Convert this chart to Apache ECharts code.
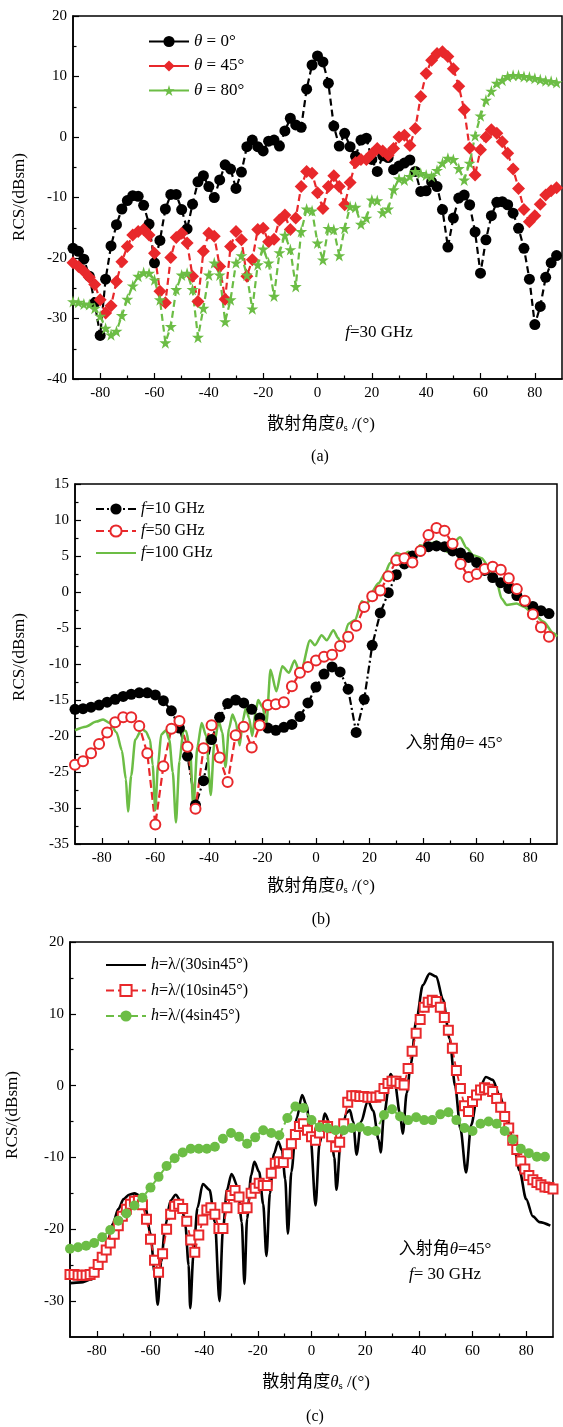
<!doctype html>
<html>
<head>
<meta charset="utf-8">
<title>RCS</title>
<script src="https://cdn.jsdelivr.net/npm/echarts@6/dist/echarts.min.js"></script>
<style>
html, body { margin: 0; padding: 0; background: #fff; }
#main { width: 563px; height: 1427px; }
</style>
</head>
<body>
<div id="main"></div>
<script>
// ---- (a) f = 30 GHz, incidence 0/45/80 deg ----
var aAngle = [-90,-88,-86,-84,-82,-80,-78,-76,-74,-72,-70,-68,-66,-64,-62,-60,-58,-56,-54,-52,-50,-48,-46,-44,-42,-40,-38,-36,-34,-32,-30,-28,-26,-24,-22,-20,-18,-16,-14,-12,-10,-8,-6,-4,-2,0,2,4,6,8,10,12,14,16,18,20,22,24,26,28,30,32,34,36,38,40,42,44,46,48,50,52,54,56,58,60,62,64,66,68,70,72,74,76,78,80,82,84,86,88];
var aTheta0 = [-18.4,-18.9,-20.2,-23.0,-27.4,-32.8,-23.5,-18.0,-14.5,-11.9,-10.5,-9.7,-9.8,-11.3,-14.4,-20.8,-17.1,-11.9,-9.5,-9.5,-12.0,-15.2,-11.1,-7.4,-6.4,-8.2,-10.0,-7.1,-4.6,-5.3,-8.5,-5.8,-1.6,-0.5,-1.6,-2.3,-0.7,-0.5,-1.5,1.0,3.1,2.0,1.6,7.9,11.9,13.4,12.4,8.9,1.8,-1.5,0.6,-1.6,-3.2,-0.5,-0.2,-3.7,-5.7,-3.1,-3.4,-5.4,-4.8,-4.3,-3.8,-5.7,-9.0,-8.9,-7.4,-8.2,-12.0,-18.2,-13.4,-10.1,-9.6,-11.2,-15.7,-22.5,-17.0,-13.0,-10.8,-10.7,-11.2,-12.6,-15.1,-18.4,-23.5,-31.0,-28.0,-23.2,-20.8,-19.6];
var aTheta45 = [-20.8,-21.4,-22.2,-23.2,-24.4,-26.9,-29.1,-27.9,-23.9,-20.6,-18.1,-16.2,-15.6,-15.3,-16.2,-19.2,-25.5,-27.4,-19.9,-16.6,-15.9,-17.5,-23.0,-27.2,-18.9,-15.9,-16.4,-21.4,-26.8,-18.1,-15.6,-17.0,-23.0,-20.3,-15.3,-15.1,-17.3,-16.9,-13.7,-12.9,-15.3,-13.4,-8.2,-5.7,-6.0,-9.2,-11.8,-8.2,-6.4,-8.2,-11.2,-7.5,-4.2,-3.7,-3.7,-2.8,-1.9,-2.3,-3.0,-1.9,0.0,0.3,-1.4,1.4,6.7,10.5,12.7,13.8,14.1,13.3,11.3,8.4,4.5,-1.8,-6.3,-2.1,0.0,1.2,0.6,-0.8,-2.7,-5.3,-8.5,-12.0,-14.0,-13.0,-11.1,-9.6,-8.9,-8.4];
var aTheta80 = [-27.2,-27.3,-27.6,-27.7,-28.3,-29.6,-31.6,-32.7,-32.1,-29.5,-26.8,-24.6,-23.0,-22.4,-22.5,-23.6,-26.9,-34.0,-31.3,-25.2,-22.8,-22.5,-25.2,-33.1,-28.3,-22.8,-20.8,-22.8,-30.5,-26.9,-20.8,-19.6,-22.8,-28.4,-21.1,-18.5,-20.8,-26.3,-19.1,-16.2,-18.6,-24.7,-15.6,-11.9,-12.2,-17.5,-20.3,-15.1,-15.3,-19.6,-15.1,-11.5,-11.6,-14.4,-13.4,-10.4,-10.5,-12.5,-11.9,-8.7,-6.9,-7.1,-6.5,-5.7,-6.0,-6.3,-6.5,-5.5,-4.3,-3.5,-3.7,-5.2,-7.1,-4.3,0.2,3.5,6.1,7.6,8.9,9.4,10.0,10.2,10.2,10.0,9.9,9.7,9.5,9.3,9.2,9.0];

// ---- (b) incidence 45 deg, f = 10/50/100 GHz ----
var bAngle = [-90,-87,-84,-81,-78,-75,-72,-69,-66,-63,-60,-57,-54,-51,-48,-45,-42,-39,-36,-33,-30,-27,-24,-21,-18,-15,-12,-9,-6,-3,0,3,6,9,12,15,18,21,24,27,30,33,36,39,42,45,48,51,54,57,60,63,66,69,72,75,78,81,84,87];
var bF10 = [-16.3,-16.2,-16.0,-15.7,-15.3,-14.9,-14.5,-14.2,-14.0,-14.0,-14.3,-15.1,-16.5,-18.9,-22.8,-29.6,-26.2,-20.5,-17.4,-15.5,-15.0,-15.4,-16.3,-17.5,-18.9,-19.2,-18.8,-18.4,-17.3,-15.4,-13.2,-11.4,-10.4,-11.1,-13.5,-19.5,-14.9,-7.4,-2.9,-0.1,2.4,3.9,5.0,5.7,6.3,6.4,6.3,5.7,5.4,4.8,4.1,3.0,2.0,1.3,0.5,-0.5,-1.3,-2.0,-2.6,-3.0];
var bF50 = [-24.0,-23.5,-22.4,-21.1,-19.5,-18.1,-17.4,-17.4,-18.6,-22.4,-32.3,-24.2,-19.0,-17.9,-21.5,-30.1,-21.7,-18.5,-23.0,-26.4,-19.9,-18.7,-21.6,-18.5,-15.7,-15.6,-15.3,-13.1,-11.2,-10.4,-9.5,-9.0,-8.7,-7.5,-6.2,-4.7,-2.1,-0.6,0.2,2.2,4.4,4.7,4.1,5.7,7.9,8.9,8.5,6.7,3.9,2.1,2.5,3.2,3.5,3.1,1.9,0.4,-1.2,-3.1,-4.9,-6.2];
var b100Angle = [-90,-86,-82,-79.5,-77,-74.5,-72.5,-71,-70.2,-69,-67.5,-65,-63.5,-62,-61,-60,-59,-57.8,-56,-54.8,-53.5,-52.3,-51,-49.5,-48.5,-47,-45.8,-44.3,-42.7,-41,-39.3,-38,-36.3,-35,-33.8,-32.5,-31.2,-30,-28.5,-27.3,-26.2,-25,-23.8,-22.5,-21.6,-20,-18.5,-17,-14.8,-12.6,-10.1,-8,-5.9,-2.2,-0.4,2.1,4,6.5,8.3,9.6,12.1,14.6,17.1,19,20.8,23.3,25.8,27.6,30.1,32.6,34.5,37,38.8,41.3,43.2,45.1,47,48.8,51.3,53.8,56.3,58.7,61.9,64.4,67.5,69.3,71.2,74.9,77.4,81.2,84.9,88.6,90];
var bF100 = [-19.2,-18.7,-18.0,-17.7,-18.2,-19.5,-22.0,-26.0,-30.5,-25.5,-20.5,-19.0,-19.4,-20.5,-24.0,-30.3,-24.0,-19.8,-19.2,-20.5,-25.0,-32.0,-23.5,-19.2,-19.3,-22.0,-30.0,-21.5,-18.2,-20.0,-28.2,-21.0,-18.0,-19.5,-24.3,-19.0,-17.0,-18.0,-21.3,-17.8,-16.1,-17.5,-20.0,-16.5,-15.0,-16.0,-18.2,-10.8,-13.8,-10.3,-11.2,-9.5,-11.4,-6.7,-7.4,-6.0,-6.7,-5.3,-6.4,-7.6,-4.4,-3.9,-1.3,-1.8,0.0,1.2,2.6,4.0,5.4,5.1,5.6,5.1,6.5,6.3,6.8,7.0,6.1,5.6,6.8,7.6,6.1,5.1,4.7,3.5,1.4,-0.9,-1.8,-1.6,-2.0,-3.0,-4.1,-5.7,-6.2];

// ---- (c) incidence 45 deg, f = 30 GHz, three heights ----
var c30Angle = [-90,-86,-82,-80,-78,-76,-74,-72,-70,-68,-66,-64,-62,-60,-58.5,-57.3,-56,-54.5,-52.5,-50.6,-48.5,-47,-45.8,-45.2,-44,-42.5,-40.5,-38,-36,-34.3,-33,-31.5,-29.8,-27.5,-26,-25,-24,-22.5,-21.3,-19.5,-18,-16.8,-15.5,-14,-12.4,-11,-9.8,-8.8,-7.5,-5.5,-3.5,-1.8,-0.3,1.5,3,5,7,8.5,9.3,11,13,14.3,15.5,16.8,18.5,21,23,25,25.8,27,29.5,31,33,34,35.5,37,39,41.5,44,46.5,49,51.5,53.5,55.5,57.6,59.5,62,65,67.5,70,72.5,75,77.5,80,82.5,85,89];
var c30Rcs = [-27.5,-27.4,-27.0,-26.0,-24.5,-21.8,-19.2,-17.2,-15.8,-15.2,-15.0,-15.3,-16.8,-20.6,-26.0,-30.5,-24.5,-19.5,-16.0,-15.2,-16.2,-19.5,-25.0,-31.0,-23.5,-17.0,-13.7,-14.5,-19.0,-30.0,-20.0,-14.5,-12.3,-14.0,-19.0,-27.6,-18.5,-12.5,-10.6,-12.0,-16.5,-23.7,-15.0,-9.5,-7.8,-9.0,-13.0,-20.6,-12.0,-4.5,-1.3,-2.8,-7.5,-16.7,-8.0,-3.9,-5.5,-10.0,-14.5,-7.0,-3.8,-3.4,-5.0,-9.6,-5.0,-2.1,-3.5,-7.5,-9.3,-4.0,1.6,0.5,-4.0,-6.7,-1.0,3.0,9.0,14.0,15.6,15.2,12.0,6.5,0.0,-6.0,-12.1,-5.5,-1.0,1.2,0.8,-1.2,-4.0,-7.5,-11.8,-15.8,-18.2,-19.0,-19.5];
var c10Angle = [-90,-88.5,-87,-85.5,-84,-82.5,-81,-79.5,-78,-76.5,-75,-73.5,-72,-70.5,-69,-67.5,-66,-64.5,-63,-61.5,-60,-58.5,-57,-55.5,-54,-52.5,-51,-49.5,-48,-46.5,-45,-43.5,-42,-40.5,-39,-37.5,-36,-34.5,-33,-31.5,-30,-28.5,-27,-25.5,-24,-22.5,-21,-19.5,-18,-16.5,-15,-13.5,-12,-10.5,-9,-7.5,-6,-4.5,-3,-1.5,0,1.5,3,4.5,6,7.5,9,10.5,12,13.5,15,16.5,18,19.5,21,22.5,24,25.5,27,28.5,30,31.5,33,34.5,36,37.5,39,40.5,42,43.5,45,46.5,48,49.5,51,52.5,54,55.5,57,58.5,60,61.5,63,64.5,66,67.5,69,70.5,72,73.5,75,76.5,78,79.5,81,82.5,84,85.5,87,88.5,90];
var c10Rcs = [-26.3,-26.3,-26.4,-26.4,-26.4,-26.3,-26.0,-24.9,-23.9,-22.9,-21.9,-20.7,-19.5,-18.2,-17.2,-16.5,-16.1,-16.0,-16.6,-18.6,-21.4,-24.3,-26.0,-23.4,-20.0,-17.9,-16.8,-16.5,-17.1,-18.9,-21.5,-23.2,-20.8,-18.7,-17.3,-17.0,-17.9,-19.9,-19.9,-17.0,-15.3,-14.6,-15.5,-17.1,-17.0,-15.0,-14.3,-13.6,-13.9,-13.9,-12.2,-10.8,-10.6,-10.7,-9.5,-8.1,-6.8,-5.7,-5.3,-6.2,-7.1,-7.6,-6.6,-5.6,-5.7,-7.1,-8.5,-7.9,-5.3,-2.3,-1.4,-1.4,-1.5,-1.5,-1.6,-1.6,-1.6,-1.4,-0.4,0.3,0.6,0.6,0.3,0.1,2.4,4.8,7.3,9.2,10.9,11.6,11.9,11.7,10.9,9.5,7.7,5.2,2.1,-0.4,-2.8,-3.6,-2.2,-1.3,-0.6,-0.3,-0.5,-0.8,-1.8,-3.0,-4.3,-5.9,-7.6,-8.9,-10.5,-11.6,-12.5,-13.1,-13.5,-13.8,-14.1,-14.2,-14.4];
var c4Angle = [-90,-87,-84,-81,-78,-75,-72,-69,-66,-63,-60,-57,-54,-51,-48,-45,-42,-39,-36,-33,-30,-27,-24,-21,-18,-15,-12,-9,-6,-3,0,3,6,9,12,15,18,21,24,27,30,33,36,39,42,45,48,51,54,57,60,63,66,69,72,75,78,81,84,87];
var c4Rcs = [-22.7,-22.5,-22.3,-21.9,-21.1,-20.1,-18.8,-17.8,-16.7,-15.6,-14.2,-12.7,-11.2,-10.1,-9.3,-8.8,-8.8,-8.8,-8.5,-7.4,-6.6,-7.1,-8.1,-7.2,-6.2,-6.6,-6.9,-4.5,-2.9,-3.1,-4.8,-5.8,-5.9,-6.2,-6.2,-5.9,-5.8,-6.3,-6.3,-4.1,-3.3,-4.3,-4.8,-4.4,-4.8,-4.8,-4.0,-3.7,-4.8,-5.9,-6.3,-5.3,-5.0,-5.3,-6.3,-7.5,-8.8,-9.4,-9.9,-9.9];

// tick labels
var xMajor = [-80, -60, -40, -20, 0, 20, 40, 60, 80];
var xMinor = [-70, -50, -30, -10, 10, 30, 50, 70];
var cYMajor = [-30, -20, -10, 0, 10, 20];
var cYMinor = [-25, -15, -5, 5, 15];

var serif = '"Liberation Serif", "Times New Roman", "Noto Sans CJK SC", serif';
var RED = '#e8282b', GREEN = '#6cbd45', BLACK = '#000';
var STAR = 'path://M50,0 L61,35 L98,35 L68,57 L79,91 L50,70 L21,91 L32,57 L2,35 L39,35 Z';

function zip(xs, ys) {
  var out = [];
  for (var i = 0; i < xs.length; i++) out.push([xs[i], ys[i]]);
  return out;
}

var tickLine = { color: '#000', width: 1.2 };
var axisLine = { show: true, onZero: false, lineStyle: { color: '#000', width: 1.5 } };
var labelStyle = { fontFamily: serif, fontSize: 15, color: '#000' };

function xMainAxis(g) {
  return {
    type: 'value', gridIndex: g, min: -90, max: 90, position: 'bottom',
    axisLine: axisLine,
    axisTick: { inside: true, length: 6, customValues: xMajor, lineStyle: tickLine },
    axisLabel: Object.assign({ customValues: xMajor, margin: 7 }, labelStyle),
    splitLine: { show: false }
  };
}
function xMinorAxis(g) {
  return {
    type: 'value', gridIndex: g, min: -90, max: 90, position: 'bottom',
    axisLine: { show: false, onZero: false },
    axisTick: { inside: true, length: 3.5, customValues: xMinor, lineStyle: tickLine },
    axisLabel: { show: false },
    splitLine: { show: false }
  };
}

var italic = { i: { fontStyle: 'italic', fontFamily: serif, fontSize: 17 } };
var xNameRich = {
  i: { fontStyle: 'italic', fontFamily: serif, fontSize: 17 },
  s: { fontFamily: serif, fontSize: 11, verticalAlign: 'bottom' }
};

function txt(x, y, text, size, rich, rot) {
  return {
    type: 'text', x: x, y: y, rotation: rot || 0,
    style: {
      text: text, fontFamily: serif, fontSize: size, fill: '#000',
      align: 'center', verticalAlign: 'middle', rich: rich || {}
    }
  };
}

// plain line entries (no marker) hide the legend dot
function legendBox(names, plain, left, top, gap, size, lead, solid) {
  var data = names.map(function (n) {
    return plain.indexOf(n) >= 0 ? { name: n, itemStyle: { opacity: 0 } } : { name: n };
  });
  var l = {
    data: data, orient: 'vertical', left: left, top: top, padding: 0,
    itemWidth: 40, itemHeight: 14, itemGap: gap,
    textStyle: { fontFamily: serif, fontSize: size, color: '#000',
      rich: { i: { fontStyle: 'italic', fontFamily: serif, fontSize: size } } },
    formatter: function (n) { return '{i|' + lead + '}' + n.slice(1); }
  };
  if (solid) l.lineStyle = { type: 'solid' };
  return l;
}

var chart = echarts.init(document.getElementById('main'));
chart.setOption({
  animation: false,
  backgroundColor: '#fff',
  grid: [
    { left: 73, top: 16, width: 489, height: 363, show: true, borderColor: '#000', borderWidth: 1.5 },
    { left: 75, top: 484, width: 482, height: 360, show: true, borderColor: '#000', borderWidth: 1.5 },
    { left: 70, top: 942, width: 483, height: 395, show: true, borderColor: '#000', borderWidth: 1.5 }
  ],
  xAxis: [xMainAxis(0), xMinorAxis(0), xMainAxis(1), xMinorAxis(1), xMainAxis(2), xMinorAxis(2)],
  yAxis: [
    {
      type: 'value', gridIndex: 0, min: -40, max: 20, interval: 10, position: 'left',
      axisLine: axisLine,
      axisTick: { inside: true, length: 6, lineStyle: tickLine },
      minorTick: { show: true, splitNumber: 2, length: 3.5, lineStyle: tickLine },
      axisLabel: Object.assign({ margin: 6 }, labelStyle),
      splitLine: { show: false }
    },
    {
      type: 'value', gridIndex: 1, min: -35, max: 15, interval: 5, position: 'left',
      axisLine: axisLine,
      axisTick: { inside: true, length: 6, lineStyle: tickLine },
      minorTick: { show: true, splitNumber: 2, length: 3.5, lineStyle: tickLine },
      axisLabel: Object.assign({ margin: 6 }, labelStyle),
      splitLine: { show: false }
    },
    {
      type: 'value', gridIndex: 2, min: -35, max: 20, position: 'left',
      axisLine: axisLine,
      axisTick: { inside: true, length: 6, customValues: cYMajor, lineStyle: tickLine },
      axisLabel: Object.assign({ customValues: cYMajor, margin: 6 }, labelStyle),
      splitLine: { show: false }
    },
    {
      type: 'value', gridIndex: 2, min: -35, max: 20, position: 'left',
      axisLine: { show: false, onZero: false },
      axisTick: { inside: true, length: 3.5, customValues: cYMinor, lineStyle: tickLine },
      axisLabel: { show: false },
      splitLine: { show: false }
    }
  ],
  legend: [
    legendBox(['θ = 0°', 'θ = 45°', 'θ = 80°'], [], 148, 33, 7.5, 17, 'θ', true),
    legendBox(['f=10 GHz', 'f=50 GHz', 'f=100 GHz'], ['f=100 GHz'], 95, 501, 6, 16, 'f', false),
    legendBox(['h=λ/(30sin45°)', 'h=λ/(10sin45°)', 'h=λ/(4sin45°)'], ['h=λ/(30sin45°)'], 105, 957, 9.5, 16, 'h', false)
  ],
  series: [
    // (a)
    { name: 'θ = 0°', type: 'line', xAxisIndex: 0, yAxisIndex: 0, data: zip(aAngle, aTheta0),
      symbol: 'circle', symbolSize: 11, itemStyle: { color: BLACK },
      lineStyle: { color: BLACK, width: 2.2, type: [7, 4] } },
    { name: 'θ = 45°', type: 'line', xAxisIndex: 0, yAxisIndex: 0, data: zip(aAngle, aTheta45),
      symbol: 'diamond', symbolSize: 13, itemStyle: { color: RED },
      lineStyle: { color: RED, width: 2.2, type: [7, 4] } },
    { name: 'θ = 80°', type: 'line', xAxisIndex: 0, yAxisIndex: 0, data: zip(aAngle, aTheta80),
      symbol: STAR, symbolSize: 12, itemStyle: { color: GREEN },
      lineStyle: { color: GREEN, width: 2.2, type: [7, 4] } },
    // (b)
    { name: 'f=10 GHz', type: 'line', xAxisIndex: 2, yAxisIndex: 1, data: zip(bAngle, bF10),
      symbol: 'circle', symbolSize: 11, itemStyle: { color: BLACK },
      lineStyle: { color: BLACK, width: 2.2, type: [8, 3, 2, 3] } },
    { name: 'f=50 GHz', type: 'line', xAxisIndex: 2, yAxisIndex: 1, data: zip(bAngle, bF50),
      symbol: 'emptyCircle', symbolSize: 10, itemStyle: { color: RED, borderWidth: 1.2 },
      lineStyle: { color: RED, width: 2.2, type: [8, 4] } },
    { name: 'f=100 GHz', type: 'line', xAxisIndex: 2, yAxisIndex: 1, data: zip(b100Angle, bF100),
      symbol: 'none', smooth: 0.25, smoothMonotone: 'x', itemStyle: { color: GREEN },
      lineStyle: { color: GREEN, width: 2.5 } },
    // (c)
    { name: 'h=λ/(30sin45°)', type: 'line', xAxisIndex: 4, yAxisIndex: 2, data: zip(c30Angle, c30Rcs),
      symbol: 'none', smooth: 0.3, smoothMonotone: 'x', itemStyle: { color: BLACK },
      lineStyle: { color: BLACK, width: 2.6 } },
    { name: 'h=λ/(10sin45°)', type: 'line', xAxisIndex: 4, yAxisIndex: 2, data: zip(c10Angle, c10Rcs),
      symbol: 'emptyRect', symbolSize: 9, itemStyle: { color: RED, borderWidth: 1.1 },
      lineStyle: { color: RED, width: 1.8, type: [8, 4] } },
    { name: 'h=λ/(4sin45°)', type: 'line', xAxisIndex: 4, yAxisIndex: 2, data: zip(c4Angle, c4Rcs),
      symbol: 'circle', symbolSize: 10, itemStyle: { color: GREEN },
      lineStyle: { color: GREEN, width: 2, type: [8, 4] } }
  ],
  graphic: [
    txt(20, 197, 'RCS/(dBsm)', 17, null, Math.PI / 2),
    txt(20, 657, 'RCS/(dBsm)', 17, null, Math.PI / 2),
    txt(13, 1115, 'RCS/(dBsm)', 17, null, Math.PI / 2),
    txt(321, 425, '散射角度{i|θ}{s|s} /(°)', 17, xNameRich),
    txt(321, 887, '散射角度{i|θ}{s|s} /(°)', 17, xNameRich),
    txt(316, 1383, '散射角度{i|θ}{s|s} /(°)', 17, xNameRich),
    txt(320, 457, '(a)', 16),
    txt(321, 920, '(b)', 16),
    txt(315, 1417, '(c)', 16),
    txt(379, 333, '{i|f}=30 GHz', 17, italic),
    txt(454, 744, '入射角{i|θ}= 45°', 17, italic),
    txt(445, 1250, '入射角{i|θ}=45°', 17, italic),
    txt(445, 1275, '{i|f}= 30 GHz', 17, italic)
  ]
});
</script>
</body>
</html>
